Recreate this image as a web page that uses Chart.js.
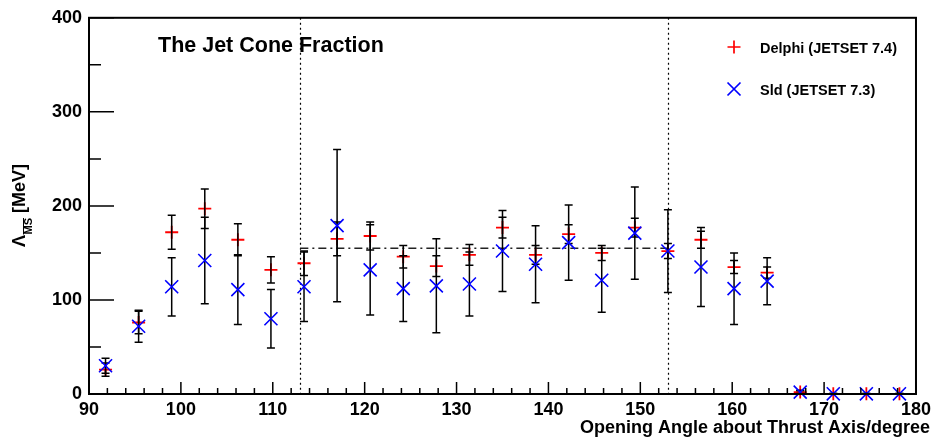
<!DOCTYPE html>
<html>
<head>
<meta charset="utf-8">
<script src="https://cdn.jsdelivr.net/npm/chart.js@4.4.1/dist/chart.umd.min.js"></script>
<style>
  html, body { margin: 0; padding: 0; background: #fff; }
  #wrap { width: 936px; height: 439px; }
</style>
</head>
<body>
<div id="wrap"><canvas id="jetChart"></canvas></div>
<script>
// bin centres (3.6 degree bins from 90 to 180)
const angles = [91.8, 95.4, 99.0, 102.6, 106.2, 109.8, 113.4, 117.0, 120.6, 124.2, 127.8, 131.4, 135.0,
                138.6, 142.2, 145.8, 149.4, 153.0, 156.6, 160.2, 163.8, 167.4, 171.0, 174.6, 178.2];
const delphi    = [26, 76, 172, 197, 164, 132, 139, 165, 168, 146, 136, 148, 177,
                   148, 170, 150, 177, 152, 164, 135, 129, 2, 0.2, 0.2, 0.2];
const delphiErr = [7, 12, 18, 21, 17, 14, 13, 18, 15, 12, 11, 11, 11,
                   10, 10, 8, 10, 8, 9, 7, 6, 1.5, 0.2, 0.2, 0.2];
const sld       = [30, 72, 114, 142, 111, 80, 114, 179, 132, 112, 115, 117, 152,
                   138, 161, 121, 171, 152, 135, 112, 120, 2, 0.2, 0.2, 0.2];
const sldErr    = [8, 17, 31, 46, 37, 31, 37, 81, 48, 35, 50, 34, 43,
                   41, 40, 34, 49, 44, 42, 38, 25, 2, 0.2, 0.2, 0.2];

// fit window and fitted value
const cutAngles = [113, 153];
const meanLambda = 155;

const xTicks = [90, 100, 110, 120, 130, 140, 150, 160, 170, 180];
const yTicks = [0, 100, 200, 300, 400];

const FONT = '"Liberation Sans", Arial, Helvetica, sans-serif';

function toPoints(vals) {
    return angles.map((a, i) => ({x: a, y: vals[i]}));
}

function drawErrors(chart) {
    const {ctx, scales: {x, y}} = chart;
    ctx.save();
    ctx.strokeStyle = '#000';
    ctx.lineWidth = 1.5;
    [[delphi, delphiErr], [sld, sldErr]].forEach(([vals, errs]) => {
        angles.forEach((a, i) => {
            const px = x.getPixelForValue(a);
            const top = y.getPixelForValue(vals[i] + errs[i]);
            const bot = y.getPixelForValue(vals[i] - errs[i]);
            ctx.beginPath();
            ctx.moveTo(px, top); ctx.lineTo(px, bot);
            ctx.moveTo(px - 4, top); ctx.lineTo(px + 4, top);
            ctx.moveTo(px - 4, bot); ctx.lineTo(px + 4, bot);
            ctx.stroke();
        });
    });
    ctx.restore();
}

function marker(ctx, style, cx, cy, color) {
    ctx.save();
    ctx.strokeStyle = color;
    ctx.lineWidth = 1.7;
    ctx.beginPath();
    if (style === 'cross') {
        ctx.moveTo(cx - 6.5, cy); ctx.lineTo(cx + 6.5, cy);
        ctx.moveTo(cx, cy - 6.5); ctx.lineTo(cx, cy + 6.5);
    } else {
        ctx.moveTo(cx - 6.5, cy - 6.5); ctx.lineTo(cx + 6.5, cy + 6.5);
        ctx.moveTo(cx + 6.5, cy - 6.5); ctx.lineTo(cx - 6.5, cy + 6.5);
    }
    ctx.stroke();
    ctx.restore();
}

const rootStyle = {
    id: 'rootStyle',
    beforeDatasetsDraw(chart) {
        const {ctx, scales: {x, y}} = chart;
        ctx.save();
        ctx.strokeStyle = '#000';
        ctx.lineWidth = 1.2;
        // vertical dotted lines at the fit limits
        ctx.setLineDash([2, 3]);
        cutAngles.forEach(a => {
            const px = Math.round(x.getPixelForValue(a)) + 0.5;
            ctx.beginPath();
            ctx.moveTo(px, y.getPixelForValue(400));
            ctx.lineTo(px, y.getPixelForValue(0));
            ctx.stroke();
        });
        // dash-dot fitted constant
        ctx.strokeStyle = '#222';
        ctx.lineWidth = 1.5;
        ctx.setLineDash([8, 4, 2, 4]);
        const py = y.getPixelForValue(meanLambda);
        ctx.beginPath();
        ctx.moveTo(x.getPixelForValue(cutAngles[0]), py);
        ctx.lineTo(x.getPixelForValue(cutAngles[1]), py);
        ctx.stroke();
        ctx.restore();
    },
    afterDatasetDraw(chart, args) {
        if (args.index === 0) drawErrors(chart);
    },
    afterDraw(chart) {
        const {ctx, chartArea: area, scales: {x, y}} = chart;
        ctx.save();
        ctx.strokeStyle = '#000';

        // frame
        ctx.lineWidth = 2;
        ctx.strokeRect(area.left, area.top, area.right - area.left, area.bottom - area.top);

        // inward tick marks
        ctx.lineWidth = 1.5;
        ctx.beginPath();
        for (let v = 90; v <= 180; v += 2) {
            const px = x.getPixelForValue(v);
            const len = v % 10 === 0 ? 12 : 6;
            ctx.moveTo(px, area.bottom);
            ctx.lineTo(px, area.bottom - len);
        }
        for (let v = 0; v <= 400; v += 50) {
            const py = y.getPixelForValue(v);
            const len = v % 100 === 0 ? 25 : 12;
            ctx.moveTo(area.left, py);
            ctx.lineTo(area.left + len, py);
        }
        ctx.stroke();

        ctx.fillStyle = '#000';
        ctx.textBaseline = 'alphabetic';

        // title inside the frame
        ctx.font = 'bold 21.5px ' + FONT;
        ctx.textAlign = 'left';
        ctx.fillText('The Jet Cone Fraction', 158, 52);

        // legend
        ctx.font = 'bold 14.5px ' + FONT;
        marker(ctx, 'cross', 734, 47, '#ff0000');
        ctx.fillText('Delphi (JETSET 7.4)', 760, 53);
        marker(ctx, 'crossRot', 734, 89, '#0000ff');
        ctx.fillText('Sld (JETSET 7.3)', 760, 95);

        // x axis title
        ctx.font = 'bold 18px ' + FONT;
        ctx.textAlign = 'right';
        ctx.fillText('Opening Angle about Thrust Axis/degree', 930, 433);

        // y axis title: Lambda with overlined MS subscript
        ctx.translate(25, 247);
        ctx.rotate(-Math.PI / 2);
        ctx.textAlign = 'left';
        ctx.font = 'bold 18px ' + FONT;
        ctx.fillText('\u039b', 0, 0);
        let pos = ctx.measureText('\u039b').width + 0.5;
        ctx.font = 'bold 11px ' + FONT;
        ctx.fillText('MS', pos, 7);
        const msW = ctx.measureText('MS').width;
        ctx.lineWidth = 1;
        ctx.beginPath();
        ctx.moveTo(pos, -1.5);
        ctx.lineTo(pos + msW, -1.5);
        ctx.stroke();
        pos += msW;
        ctx.font = 'bold 18px ' + FONT;
        ctx.fillText(' [MeV]', pos, 0);

        ctx.restore();
    }
};

const ctx = document.getElementById('jetChart').getContext('2d');
const chart = new Chart(ctx, {
    type: 'scatter',
    data: {
        datasets: [{
            label: 'Delphi (JETSET 7.4)',
            data: toPoints(delphi),
            pointStyle: 'cross',
            radius: 6.5,
            borderColor: '#ff0000',
            borderWidth: 1.8,
            clip: false,
            order: 2
        }, {
            label: 'Sld (JETSET 7.3)',
            data: toPoints(sld),
            pointStyle: 'crossRot',
            radius: 9.2,
            borderColor: '#0000ff',
            borderWidth: 1.6,
            clip: false,
            order: 1
        }]
    },
    options: {
        responsive: true,
        maintainAspectRatio: false,
        animation: false,
        events: [],
        layout: {padding: {left: 0, top: 16, right: 19, bottom: 0}},
        plugins: {
            legend: {display: false},
            tooltip: {enabled: false}
        },
        scales: {
            x: {
                type: 'linear',
                min: 90, max: 180,
                afterBuildTicks: scale => { scale.ticks = xTicks.map(v => ({value: v})); },
                afterFit: scale => { scale.height = 45; },
                grid: {display: false, drawTicks: false},
                border: {display: false},
                ticks: {
                    autoSkip: false, maxRotation: 0, padding: 5, color: '#000',
                    font: {family: FONT, size: 18, weight: 'bold'}
                }
            },
            y: {
                type: 'linear',
                min: 0, max: 400,
                afterBuildTicks: scale => { scale.ticks = yTicks.map(v => ({value: v})); },
                afterFit: scale => { scale.width = 89; },
                grid: {display: false, drawTicks: false},
                border: {display: false},
                ticks: {
                    autoSkip: false, padding: 7, color: '#000',
                    font: {family: FONT, size: 18, weight: 'bold'}
                }
            }
        }
    },
    plugins: [rootStyle]
});
</script>
</body>
</html>
